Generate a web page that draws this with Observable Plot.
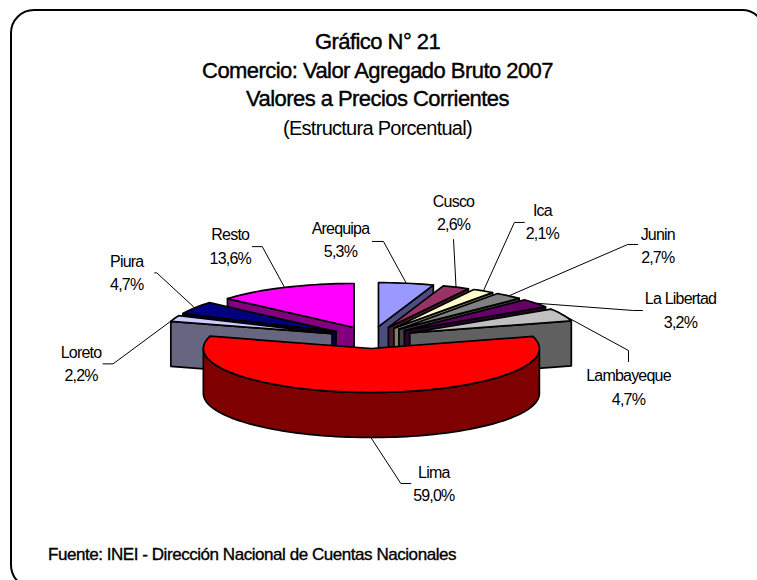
<!DOCTYPE html>
<html>
<head>
<meta charset="utf-8">
<script src="https://cdn.jsdelivr.net/npm/d3@7"></script>
<script src="https://cdn.jsdelivr.net/npm/@observablehq/plot@0.6"></script>
<style>
  html, body { margin: 0; padding: 0; background: #fff; overflow: hidden; width: 757px; height: 580px; }
  body { position: relative; font-family: "Liberation Sans", Arial, sans-serif; color: #000; }
  #frame { position: absolute; left: 10px; top: 9px; width: 756px; height: 580px; box-sizing: border-box;
           border: 2.5px solid #000; border-radius: 24px; }
  #head { position: absolute; left: 0; top: 28px; width: 755px; text-align: center; }
  #head div { height: 28.5px; line-height: 28.5px; font-size: 22px; letter-spacing: -0.55px; -webkit-text-stroke: 0.4px #000; }
  #head div.sub { font-size: 20px; -webkit-text-stroke: 0; letter-spacing: -0.73px; }
  #chart { position: absolute; left: 0; top: 140px; }
  #chart svg { display: block; background: transparent; }
  #chart svg text { letter-spacing: -0.8px; }
  #foot { position: absolute; left: 48px; top: 545px; font-size: 17px; line-height: 20px; letter-spacing: -0.45px; -webkit-text-stroke: 0.35px #000; white-space: nowrap; }
</style>
</head>
<body>
<div id="frame"></div>
<div id="head">
  <div>Gráfico N° 21</div>
  <div>Comercio: Valor Agregado Bruto 2007</div>
  <div>Valores a Precios Corrientes</div>
  <div class="sub">(Estructura Porcentual)</div>
</div>
<div id="chart"></div>
<div id="foot">Fuente: INEI - Dirección Nacional de Cuentas Nacionales</div>
<script>
// ---- data, clockwise from twelve o'clock ----
const regions = ["Arequipa", "Cusco", "Ica", "Junin", "La Libertad", "Lambayeque", "Lima", "Loreto", "Piura", "Resto"];
const shares  = [5.3, 2.6, 2.1, 2.7, 3.2, 4.7, 59.0, 2.2, 4.7, 13.6];
const topColors  = ["#9999ff", "#993366", "#ffffcc", "#808080", "#660066", "#c0c0c0", "#ff0000", "#ccccff", "#000080", "#ff00ff"];
const sideColors = ["#4c4c80", "#4c1933", "#80806a", "#404040", "#330033", "#606060", "#7f0000", "#666680", "#000040", "#800080"];

// ---- layout of the tilted pie, in pixels ----
const W = 757, H = 400;
const cx = 371, cy = 197, R = 168, RY = 44, DEPTH = 45, EXPLODE = 42;
// leader geometry relative to each slice's rim point: elbow, stub, label centre
const leaders = {
  "Arequipa":   {elbow: [-22.8, -41.8], stub: [-11, 0], label: [-65.8, -42.8]},
  "Cusco":      {elbow: [-2.5, -47.7],  stub: [0, 0],   label: [-2.5, -73.7]},
  "Ica":        {elbow: [31, -68.5],    stub: [10, 0],  label: [59, -68.5]},
  "Junin":      {elbow: [119, -51.4],   stub: [10, 0],  label: [149, -49.4]},
  "La Libertad":{elbow: [97.8, 7.3],    stub: [9, 0],   label: [144.8, 7.3]},
  "Lambayeque": {elbow: [65.7, 35.7],   stub: [0, 11],  label: [65.7, 72.7]},
  "Lima":       {elbow: [30, 46],       stub: [10, 0],  label: [63, 46.5]},
  "Loreto":     {elbow: [-61.4, 45.4],  stub: [-10, 0], label: [-93.4, 45.4]},
  "Piura":      {elbow: [-37.9, -35],   stub: [-2, 0],  label: [-67.9, -35]},
  "Resto":      {elbow: [-22.3, -40.8], stub: [-10, 0], label: [-54.3, -40.8]}
};

// ---- pie maths: x and y are in radius units; z drops the point down the wall ----
const total = d3.sum(shares);
const cumulative = d3.cumsum(shares);
const slices = regions.map((name, i) => {
  const a0 = (cumulative[i] - shares[i]) / total * 2 * Math.PI;
  const a1 = cumulative[i] / total * 2 * Math.PI;
  const mid = (a0 + a1) / 2;
  return {name, i, a0, a1, mid, ox: EXPLODE / R * Math.sin(mid), oy: EXPLODE / R * Math.cos(mid)};
});
const wall = DEPTH / RY;
const apex = (s, drop = 0) => ({x: s.ox, y: s.oy - drop});
const rim = (s, a, drop = 0) => ({x: s.ox + Math.sin(a), y: s.oy + Math.cos(a) - drop});
function arc(s, a0, a1, drop = 0) {
  const n = Math.max(2, Math.ceil(Math.abs(a1 - a0) / (Math.PI / 90)));
  return d3.range(n + 1).map(k => rim(s, a0 + (a1 - a0) * k / n, drop));
}
const closed = pts => [...pts, pts[0]];
const topFace = s => closed([apex(s), ...arc(s, s.a0, s.a1)]);
const edgeWall = (s, a) => closed([apex(s), rim(s, a), rim(s, a, wall), apex(s, wall)]);
const outerWall = (s, a0, a1) => closed([...arc(s, a0, a1), ...arc(s, a1, a0, wall)]);

const polygon = (pts, fill) => Plot.line(pts, {x: "x", y: "y", fill, stroke: "#000", strokeWidth: 1.7, strokeLinejoin: "round", curve: "linear"});

const byName = Object.fromEntries(slices.map(s => [s.name, s]));
const faces = [];
// right-hand fan, back to front: the wall on the clockwise edge shows
for (const n of ["Arequipa", "Cusco", "Ica", "Junin", "La Libertad", "Lambayeque"]) {
  const s = byName[n];
  faces.push(polygon(edgeWall(s, s.a1), sideColors[s.i]), polygon(topFace(s), topColors[s.i]));
}
// left-hand fan, back to front: the wall on the counter-clockwise edge shows
for (const n of ["Resto", "Piura", "Loreto"]) {
  const s = byName[n];
  faces.push(polygon(edgeWall(s, s.a0), sideColors[s.i]), polygon(topFace(s), topColors[s.i]));
}
// the big slice sits in front of everything; its curved wall faces the viewer
const lima = byName["Lima"];
faces.push(polygon(outerWall(lima, Math.PI / 2, 3 * Math.PI / 2), sideColors[lima.i]), polygon(topFace(lima), topColors[lima.i]));

// ---- leaders and labels, anchored on the rim at each slice's mid-angle ----
const px = ([dx, dy]) => ({x: dx / R, y: -dy / RY});
const leaderMarks = [], labelRows = [];
for (const s of slices) {
  const l = leaders[s.name];
  const start = rim(s, s.mid, s.name === "Lima" ? wall : 0);
  const e = px(l.elbow), st = px(l.stub), t = px(l.label);
  const elbow = {x: start.x + e.x, y: start.y + e.y};
  leaderMarks.push(Plot.line([start, elbow, {x: elbow.x + st.x, y: elbow.y + st.y}], {x: "x", y: "y", stroke: "#000", strokeWidth: 1, curve: "linear"}));
  labelRows.push({x: start.x + t.x, y: start.y + t.y, text: `${s.name}\n${shares[s.i].toFixed(1).replace(".", ",")}%`});
}

const plot = Plot.plot({
  width: W, height: H, margin: 0,
  x: {domain: [-cx / R, (W - cx) / R], range: [0, W], axis: null},
  y: {domain: [cy / RY, (cy - H) / RY], range: [0, H], axis: null},
  marks: [
    ...leaderMarks,
    ...faces,
    Plot.text(labelRows, {x: "x", y: "y", dy: -2, text: "text", fontSize: 16, lineHeight: 1.45, lineAnchor: "middle", textAnchor: "middle", fill: "#000", fontFamily: "Liberation Sans"})
  ]
});
document.getElementById("chart").appendChild(plot);
</script>
</body>
</html>
